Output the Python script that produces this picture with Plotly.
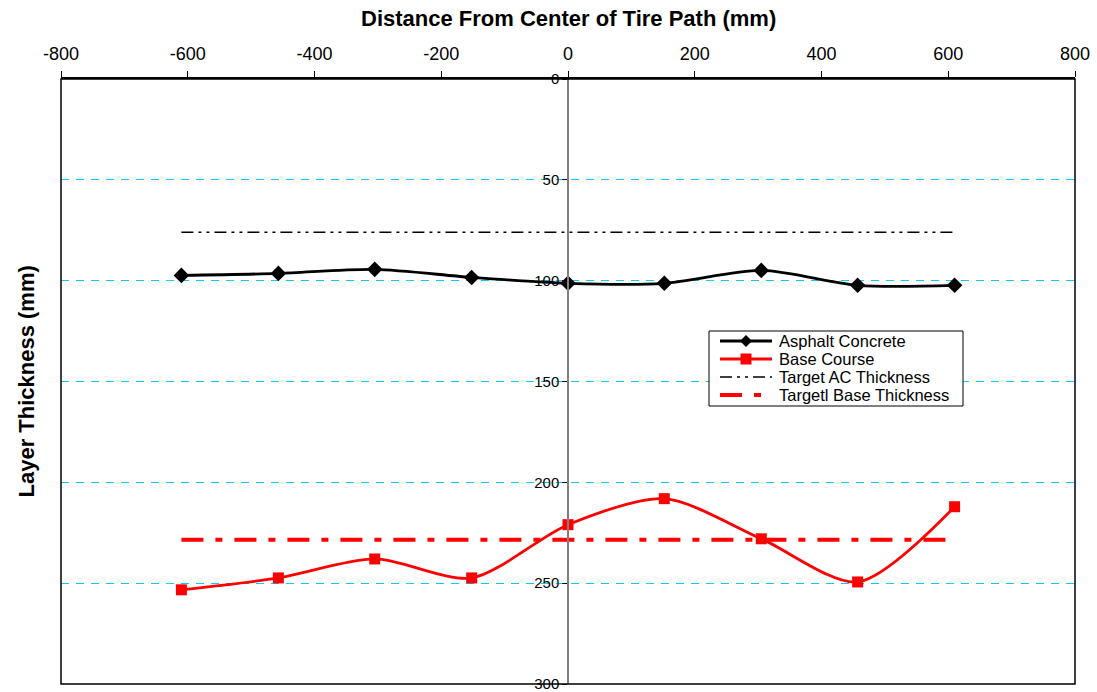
import plotly.graph_objects as go

# Offset from the center of the tire path (mm)
offset_mm = [-610, -457, -305, -152, 0, 152, 305, 457, 610]

# Measured layer thickness at each offset (mm)
asphalt_concrete = [97.4, 96.4, 94.4, 98.4, 101.3, 101.3, 94.9, 102.3, 102.3]
base_course = [253.3, 247.4, 238.0, 247.4, 221.0, 208.1, 228.0, 249.4, 212.1]

# Design targets (mm)
target_ac = 76.0
target_base = 228.5

x_ticks = [-800, -600, -400, -200, 0, 200, 400, 600, 800]
x_tick_text = ["-800", "-600", "-400", "-200", "0", "200", "400", "600", "800"]
y_ticks = [0, 50, 100, 150, 200, 250, 300]

FONT = "Liberation Sans, Arial, sans-serif"

# Series styling, shared by the traces and the legend box
STYLES = [
    dict(name="Asphalt Concrete", color="black", width=2.8, dash="solid", marker="diamond"),
    dict(name="Base Course", color="#FF0000", width=2.8, dash="solid", marker="square"),
    dict(name="Target AC Thickness", color="black", width=1.5, dash="12px,5px,3px,5px,3px,5px", marker=None),
    dict(name="Targetl Base Thickness", color="#FF0000", width=4, dash="22px,12px,7px,12px", marker=None),
]

fig = go.Figure()

fig.add_trace(go.Scatter(
    x=offset_mm, y=asphalt_concrete, name=STYLES[0]["name"],
    mode="lines+markers", line=dict(color="black", width=STYLES[0]["width"], shape="spline", smoothing=0.8),
    marker=dict(symbol="diamond", size=12, color="black"),
))
fig.add_trace(go.Scatter(
    x=offset_mm, y=base_course, name=STYLES[1]["name"],
    mode="lines+markers", line=dict(color="#FF0000", width=STYLES[1]["width"], shape="spline", smoothing=0.8),
    marker=dict(symbol="square", size=11, color="#FF0000"),
))
fig.add_trace(go.Scatter(
    x=[offset_mm[0], offset_mm[-1]], y=[target_ac, target_ac], name=STYLES[2]["name"],
    mode="lines", line=dict(color="black", width=STYLES[2]["width"], dash=STYLES[2]["dash"]),
))
fig.add_trace(go.Scatter(
    x=[offset_mm[0], offset_mm[-1]], y=[target_base, target_base], name=STYLES[3]["name"],
    mode="lines", line=dict(color="#FF0000", width=STYLES[3]["width"], dash=STYLES[3]["dash"]),
))

# Plot area in pixels (for placing the legend box)
PL, PR, PT, PB = 61, 1075, 79, 684


def px_x(px):
    return (px - PL) / (PR - PL)


def px_y(py):
    return (PB - py) / (PB - PT)


shapes = [dict(type="rect", xref="paper", yref="paper", x0=0, x1=1, y0=0, y1=1,
               line=dict(color="black", width=1.5), layer="above")]
annotations = [
    dict(text="<b>Distance From Center of Tire Path (mm)</b>", xref="paper", yref="paper",
         x=0.5, y=1, yshift=61, xanchor="center", yanchor="middle", showarrow=False,
         font=dict(family=FONT, size=22, color="black")),
    dict(text="<b>Layer Thickness (mm)</b>", xref="paper", yref="paper",
         x=0, y=0.5, xshift=-35, xanchor="center", yanchor="middle", showarrow=False,
         textangle=-90, font=dict(family=FONT, size=22, color="black")),
]

# Legend box
LEG_L, LEG_R, LEG_T, LEG_B = 709, 963, 331, 406
shapes.append(dict(type="rect", xref="paper", yref="paper",
                   x0=px_x(LEG_L), x1=px_x(LEG_R), y0=px_y(LEG_B), y1=px_y(LEG_T),
                   fillcolor="white", line=dict(color="black", width=1), layer="above"))
row_y = [341, 359, 377, 395]
for st, ry in zip(STYLES, row_y):
    yy = px_y(ry)
    shapes.append(dict(type="line", xref="paper", yref="paper",
                       x0=px_x(720), x1=px_x(772), y0=yy, y1=yy, layer="above",
                       line=dict(color=st["color"], width=st["width"], dash=st["dash"])))
    if st["marker"] == "diamond":
        shapes.append(dict(type="path", xref="paper", yref="paper", xsizemode="pixel", ysizemode="pixel",
                           xanchor=px_x(746), yanchor=yy, path="M -6 0 L 0 6 L 6 0 L 0 -6 Z",
                           fillcolor=st["color"], line=dict(width=0), layer="above"))
    elif st["marker"] == "square":
        shapes.append(dict(type="path", xref="paper", yref="paper", xsizemode="pixel", ysizemode="pixel",
                           xanchor=px_x(746), yanchor=yy, path="M -5.5 -5.5 L 5.5 -5.5 L 5.5 5.5 L -5.5 5.5 Z",
                           fillcolor=st["color"], line=dict(width=0), layer="above"))
    annotations.append(dict(text=st["name"], xref="paper", yref="paper", x=px_x(777), y=yy,
                            xanchor="left", yanchor="middle", showarrow=False,
                            font=dict(family=FONT, size=16.5, color="black")))

fig.update_layout(
    width=1097, height=692,
    margin=dict(l=PL, r=1097 - PR, t=PT, b=692 - PB, autoexpand=False),
    paper_bgcolor="white", plot_bgcolor="white",
    font=dict(family=FONT, color="black"),
    showlegend=False,
    xaxis=dict(
        range=[-800, 800], side="top", tickvals=x_ticks, ticktext=x_tick_text,
        ticks="outside", ticklen=6, tickcolor="black", ticklabelstandoff=4,
        showline=True, linecolor="black", linewidth=1.5,
        showgrid=False, zeroline=False, automargin=False,
        tickfont=dict(family=FONT, size=18, color="black"),
    ),
    yaxis=dict(
        range=[300, 0], tickvals=y_ticks,
        anchor="free", position=0.5, ticklabeloverflow="allow", automargin=False,
        ticks="outside", ticklen=5, tickcolor="black",
        showline=True, linecolor="#808080", linewidth=1.5,
        showgrid=True, gridcolor="#00CCFF", gridwidth=1, griddash="8px,7px",
        zeroline=False,
        tickfont=dict(family=FONT, size=15, color="black"),
    ),
    shapes=shapes,
    annotations=annotations,
)

fig.write_html("out.html")
